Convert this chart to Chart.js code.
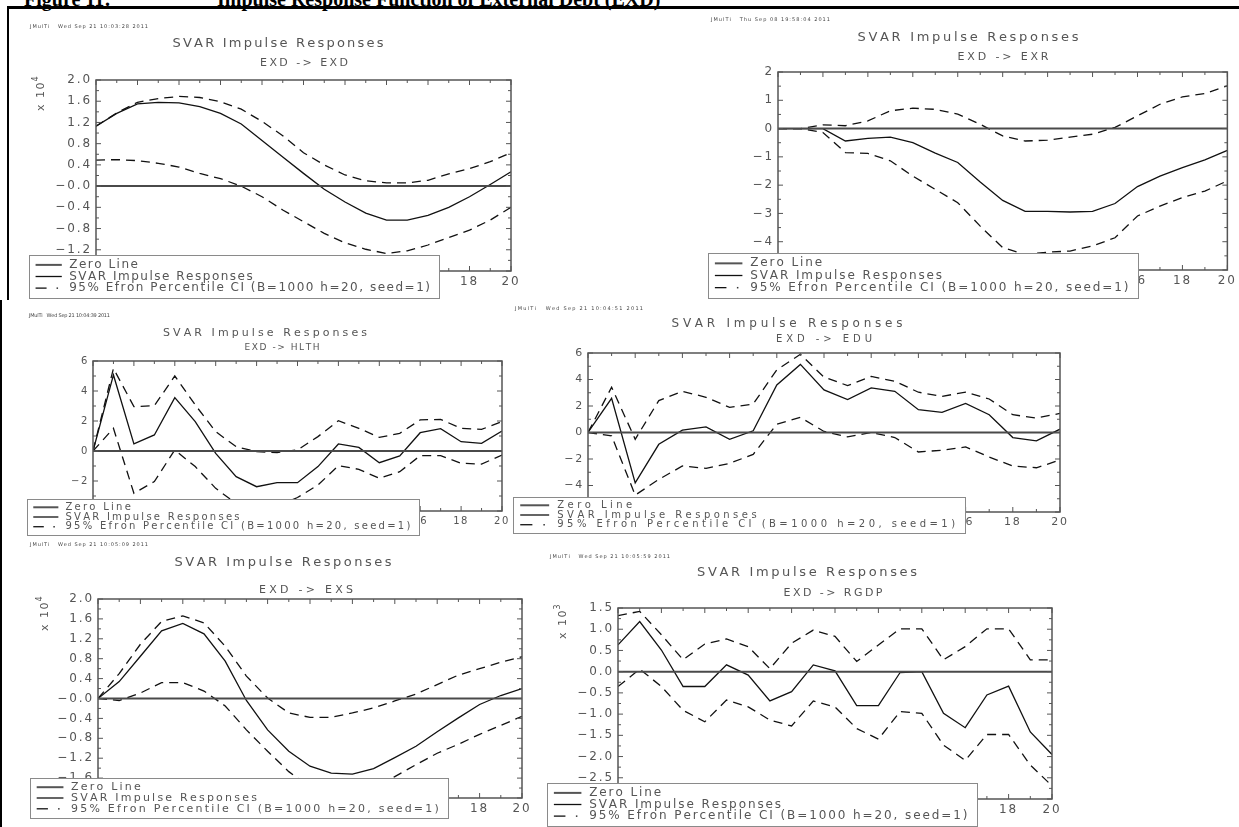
<!DOCTYPE html>
<html lang="en">
<head>
<meta charset="UTF-8">
<title>Impulse Response Function of External Debt (EXD)</title>
<script src="https://cdn.jsdelivr.net/npm/chart.js@4.4.1/dist/chart.umd.min.js"></script>
<style>
    body { margin: 0; background: #fff; }
    #page { position: relative; width: 1239px; height: 827px; overflow: hidden; background: #fff; }
    .head { position: absolute; top: -12px; font: bold 20px "Liberation Serif", "Times New Roman", serif; white-space: nowrap; color: #000; }
    .rule { position: absolute; background: #000; }
    canvas { position: absolute; left: 0; top: 0; }
</style>
</head>
<body>
<div id="page">
    <div class="head" style="left:24px">Figure 11:</div>
    <div class="head" style="left:217px">Impulse Response Function of External Debt (EXD)</div>
    <div class="rule" style="left:7px; right:0; top:6px; height:3px"></div>
    <div class="rule" style="left:7px; top:6px; width:2px; height:294px"></div>
    <div class="rule" style="left:0; top:300px; width:2px; height:527px"></div>
</div>

<script>
// horizons 0..20
const horizon = [0, 1, 2, 3, 4, 5, 6, 7, 8, 9, 10, 11, 12, 13, 14, 15, 16, 17, 18, 19, 20];

// EXD -> EXD (x 10^4)
const exdResp  = [1.13, 1.37, 1.55, 1.58, 1.57, 1.50, 1.37, 1.17, 0.86, 0.55, 0.24, -0.06, -0.30, -0.51, -0.64, -0.64, -0.55, -0.40, -0.20, 0.03, 0.27];
const exdUpper = [1.13, 1.38, 1.58, 1.65, 1.69, 1.67, 1.59, 1.45, 1.22, 0.95, 0.63, 0.40, 0.21, 0.10, 0.06, 0.06, 0.11, 0.23, 0.33, 0.46, 0.63];
const exdLower = [0.49, 0.50, 0.48, 0.43, 0.36, 0.24, 0.14, 0.00, -0.20, -0.45, -0.67, -0.89, -1.07, -1.19, -1.27, -1.22, -1.11, -0.97, -0.83, -0.64, -0.40];

// EXD -> EXR
const exrResp  = [0, 0, 0, -0.44, -0.35, -0.30, -0.50, -0.87, -1.20, -1.89, -2.54, -2.93, -2.93, -2.95, -2.93, -2.65, -2.05, -1.68, -1.38, -1.11, -0.77];
const exrUpper = [0, 0, 0.13, 0.10, 0.27, 0.63, 0.72, 0.68, 0.51, 0.15, -0.26, -0.44, -0.41, -0.30, -0.20, 0.04, 0.45, 0.86, 1.12, 1.24, 1.51];
const exrLower = [0, 0, -0.14, -0.85, -0.88, -1.14, -1.68, -2.15, -2.62, -3.45, -4.21, -4.45, -4.37, -4.33, -4.15, -3.86, -3.09, -2.74, -2.44, -2.21, -1.85];

// EXD -> HLTH
const hlthResp  = [0, 5.07, 0.47, 1.07, 3.56, 1.96, -0.16, -1.71, -2.38, -2.11, -2.11, -1.04, 0.47, 0.24, -0.78, -0.33, 1.22, 1.49, 0.62, 0.51, 1.33];
const hlthUpper = [0, 5.50, 2.96, 3.02, 5.00, 3.07, 1.29, 0.29, -0.04, -0.11, 0.07, 0.96, 2.02, 1.51, 0.91, 1.18, 2.07, 2.11, 1.51, 1.44, 1.96];
const hlthLower = [0, 1.51, -2.82, -2.04, 0.07, -1.04, -2.49, -3.50, -3.80, -3.70, -3.10, -2.27, -0.98, -1.22, -1.82, -1.38, -0.31, -0.31, -0.82, -0.87, -0.27];

// EXD -> EDU
const eduResp  = [0, 2.58, -3.80, -0.89, 0.18, 0.43, -0.51, 0.13, 3.59, 5.14, 3.22, 2.48, 3.37, 3.11, 1.72, 1.52, 2.20, 1.34, -0.38, -0.63, 0.25];
const eduUpper = [0, 3.42, -0.51, 2.41, 3.11, 2.66, 1.90, 2.15, 4.73, 5.90, 4.18, 3.54, 4.23, 3.87, 3.04, 2.73, 3.04, 2.53, 1.34, 1.09, 1.44];
const eduLower = [0, -0.25, -4.73, -3.54, -2.53, -2.71, -2.33, -1.65, 0.63, 1.14, 0.08, -0.33, 0.00, -0.38, -1.47, -1.34, -1.09, -1.85, -2.53, -2.66, -2.08];

// EXD -> EXS (x 10^4)
const exsResp  = [0, 0.34, 0.85, 1.36, 1.51, 1.30, 0.75, -0.04, -0.63, -1.06, -1.36, -1.50, -1.52, -1.41, -1.19, -0.96, -0.67, -0.39, -0.12, 0.06, 0.20];
const exsUpper = [0, 0.50, 1.09, 1.55, 1.66, 1.52, 1.05, 0.45, 0.01, -0.29, -0.38, -0.38, -0.29, -0.19, -0.05, 0.09, 0.28, 0.47, 0.60, 0.73, 0.84];
const exsLower = [0, -0.04, 0.11, 0.32, 0.32, 0.15, -0.15, -0.63, -1.06, -1.47, -1.78, -1.95, -1.98, -1.82, -1.57, -1.33, -1.10, -0.92, -0.72, -0.54, -0.36];

// EXD -> RGDP (x 10^3)
const rgdpResp  = [0.63, 1.18, 0.51, -0.35, -0.35, 0.16, -0.08, -0.69, -0.47, 0.16, 0.02, -0.80, -0.80, -0.02, 0.00, -0.98, -1.32, -0.55, -0.34, -1.42, -1.95];
const rgdpUpper = [1.32, 1.42, 0.87, 0.28, 0.65, 0.77, 0.59, 0.07, 0.67, 0.98, 0.83, 0.24, 0.63, 1.01, 1.01, 0.28, 0.59, 1.01, 1.01, 0.28, 0.28];
const rgdpLower = [-0.35, 0.06, -0.35, -0.91, -1.18, -0.67, -0.83, -1.14, -1.28, -0.69, -0.83, -1.34, -1.59, -0.94, -0.98, -1.73, -2.09, -1.48, -1.48, -2.20, -2.69];

const legendLabels = ['Zero Line', 'SVAR Impulse Responses', '95% Efron Percentile CI (B=1000 h=20, seed=1)'];

const panels = [
    { sub: 'EXD -> EXD', resp: exdResp, hi: exdUpper, lo: exdLower, min: -1.6, max: 2.0, step: 0.4, dec: 1, negZero: true, mult: '4',
      area: { l: 96, r: 511, t: 80, b: 271 }, title: [278, 44, 211], subt: [304, 63, 88], stamp: [30, 27, 118, 'JMulTi   Wed Sep 21 10:03:28 2011'],
      legend: [29, 255, 439, 298], fs: 12, multPos: [41, 97] },
    { sub: 'EXD -> EXR', resp: exrResp, hi: exrUpper, lo: exrLower, min: -5, max: 2, step: 1, dec: 0,
      area: { l: 778, r: 1228, t: 72, b: 270 }, title: [968, 38, 221], subt: [1003, 57, 91], stamp: [711, 20, 119, 'JMulTi   Thu Sep 08 19:58:04 2011'],
      legend: [708, 253, 1138, 298], fs: 12 },
    { sub: 'EXD -> HLTH', resp: hlthResp, hi: hlthUpper, lo: hlthLower, min: -4, max: 6, step: 2, dec: 0,
      area: { l: 93, r: 502, t: 361, b: 511 }, title: [265, 333, 204], subt: [282, 348, 75], stamp: [29, 316, 81, 'JMulTi   Wed Sep 21 10:04:39 2011'],
      legend: [27, 499, 419, 535], fs: 10 },
    { sub: 'EXD -> EDU', resp: eduResp, hi: eduUpper, lo: eduLower, min: -6, max: 6, step: 2, dec: 0,
      area: { l: 588, r: 1060, t: 353, b: 512 }, title: [787, 324, 231], subt: [824, 339, 96], stamp: [515, 309, 128, 'JMulTi   Wed Sep 21 10:04:51 2011'],
      legend: [513, 497, 965, 533], fs: 11 },
    { sub: 'EXD -> EXS', resp: exsResp, hi: exsUpper, lo: exsLower, min: -2.0, max: 2.0, step: 0.4, dec: 1, negZero: true, mult: '4',
      area: { l: 98, r: 522, t: 599, b: 798 }, title: [283, 563, 217], subt: [306, 590, 94], stamp: [30, 545, 118, 'JMulTi   Wed Sep 21 10:05:09 2011'],
      legend: [30, 778, 448, 818], fs: 12, multPos: [45, 617] },
    { sub: 'EXD -> RGDP', resp: rgdpResp, hi: rgdpUpper, lo: rgdpLower, min: -3.0, max: 1.5, step: 0.5, dec: 1, mult: '3',
      area: { l: 618, r: 1052, t: 608, b: 799 }, title: [807, 573, 220], subt: [833, 593, 99], stamp: [550, 557, 120, 'JMulTi   Wed Sep 21 10:05:59 2011'],
      legend: [547, 783, 977, 826], fs: 12, multPos: [563, 625] }
];

const W = 1239, H = 827;
const FONT = '"DejaVu Sans", sans-serif';
const TEXT = '#555';

function pts(vals) {
    return horizon.map((h, i) => ({ x: h, y: vals[i] }));
}

// gap between glyphs so that text spans the given width
function gapFor(ctx, text, width) {
    const total = [...text].reduce((s, c) => s + ctx.measureText(c).width, 0);
    return (width - total) / (text.length - 1);
}

function spaced(ctx, text, x, y, gap) {
    let cx = x;
    for (const c of text) {
        ctx.fillText(c, cx, y);
        cx += ctx.measureText(c).width + gap;
    }
    return cx - gap;
}

function centered(ctx, text, cx, cy, width, size) {
    ctx.font = size + 'px ' + FONT;
    ctx.fillStyle = TEXT;
    ctx.textBaseline = 'middle';
    ctx.textAlign = 'left';
    spaced(ctx, text, cx - width / 2, cy, gapFor(ctx, text, width));
}

function hline(ctx, x0, y0, x1, y1) {
    ctx.beginPath();
    ctx.moveTo(x0, y0);
    ctx.lineTo(x1, y1);
    ctx.stroke();
}

function decorFor(p) {
    return {
        id: 'decor',
        beforeDraw(chart) {
            chart.ctx.letterSpacing = (p.fs * 0.16).toFixed(1) + 'px';
        },
        afterDraw(chart) {
            const { ctx, chartArea: a, scales: { x, y } } = chart;
            ctx.save();
            ctx.letterSpacing = '0px';

            // frame and inward ticks
            ctx.strokeStyle = '#555';
            ctx.lineWidth = 1.5;
            ctx.strokeRect(a.left, a.top, a.right - a.left, a.bottom - a.top);
            ctx.lineWidth = 1;
            for (let v = 0; v <= 20; v++) {
                const px = x.getPixelForValue(v);
                const len = v % 2 ? 3 : 5;
                hline(ctx, px, a.top, px, a.top + len);
                hline(ctx, px, a.bottom, px, a.bottom - len);
            }
            const n = Math.round((p.max - p.min) / p.step * 2);
            for (let i = 0; i <= n; i++) {
                const py = y.getPixelForValue(p.min + i * p.step / 2);
                const len = i % 2 ? 3 : 5;
                hline(ctx, a.left, py, a.left + len, py);
                hline(ctx, a.right, py, a.right - len, py);
            }

            // titles, timestamp
            centered(ctx, 'SVAR Impulse Responses', p.title[0], p.title[1], p.title[2], p.fs + 1);
            centered(ctx, p.sub, p.subt[0], p.subt[1], p.subt[2], p.fs - 1);
            ctx.font = '5px ' + FONT;
            ctx.fillStyle = '#444';
            spaced(ctx, p.stamp[3], p.stamp[0], p.stamp[1], gapFor(ctx, p.stamp[3], p.stamp[2]));

            // x 10^n
            if (p.mult) {
                ctx.save();
                ctx.translate(p.multPos[0], p.multPos[1]);
                ctx.rotate(-Math.PI / 2);
                ctx.fillStyle = TEXT;
                ctx.font = '11px ' + FONT;
                ctx.textBaseline = 'middle';
                const end = spaced(ctx, 'x 10', -14, 0, 1.5);
                ctx.font = '8px ' + FONT;
                ctx.fillText(p.mult, end + 1, -5);
                ctx.restore();
            }

            // legend box
            const [x0, y0, x1, y1] = p.legend;
            const w = x1 - x0, h = y1 - y0;
            ctx.fillStyle = '#fff';
            ctx.fillRect(x0, y0, w, h);
            ctx.strokeStyle = '#8a8a8a';
            ctx.lineWidth = 1;
            ctx.strokeRect(x0 + 0.5, y0 + 0.5, w, h);
            const rows = [0.23, 0.5, 0.77].map(f => y0 + h * f);
            const sx0 = x0 + 0.016 * w, sx1 = x0 + 0.08 * w, tx = x0 + 0.098 * w;
            ctx.font = Math.round(h * 0.27) + 'px ' + FONT;
            ctx.textBaseline = 'middle';
            ctx.fillStyle = TEXT;
            const gap = gapFor(ctx, legendLabels[2], 0.88 * w);
            legendLabels.forEach((t, i) => spaced(ctx, t, tx, rows[i], gap));
            ctx.strokeStyle = '#555';
            ctx.lineWidth = 2;
            hline(ctx, sx0, rows[0], sx1, rows[0]);
            ctx.strokeStyle = '#111';
            ctx.lineWidth = 1.3;
            hline(ctx, sx0, rows[1], sx1, rows[1]);
            hline(ctx, sx0, rows[2], sx0 + 0.42 * (sx1 - sx0), rows[2]);
            ctx.fillStyle = '#333';
            ctx.fillRect(sx0 + 0.8 * (sx1 - sx0), rows[2] - 0.7, 1.5, 1.5);
            ctx.restore();
        }
    };
}

function makePanel(p) {
    const canvas = document.createElement('canvas');
    canvas.width = W;
    canvas.height = H;
    document.getElementById('page').appendChild(canvas);
    const yW = 50, xH = 22;
    const tickFont = { family: FONT, size: p.fs };
    const ci = { borderColor: '#111', borderWidth: 1.3, borderDash: [9, 6] };

    new Chart(canvas, {
        type: 'line',
        data: {
            datasets: [
                { label: legendLabels[0], data: [{ x: horizon[0], y: 0 }, { x: horizon[horizon.length - 1], y: 0 }], borderColor: '#4a4a4a', borderWidth: 2 },
                { label: legendLabels[1], data: pts(p.resp), borderColor: '#111', borderWidth: 1.3 },
                Object.assign({ label: 'CI upper', data: pts(p.hi) }, ci),
                Object.assign({ label: 'CI lower', data: pts(p.lo) }, ci)
            ]
        },
        options: {
            responsive: false,
            animation: false,
            devicePixelRatio: 1,
            layout: { padding: { left: p.area.l - yW, right: W - p.area.r, top: p.area.t, bottom: H - p.area.b - xH } },
            elements: { point: { radius: 0 }, line: { tension: 0 } },
            plugins: { legend: { display: false }, title: { display: false }, tooltip: { enabled: false } },
            scales: {
                x: {
                    type: 'linear', min: 0, max: 20,
                    afterFit: s => { s.height = xH; },
                    grid: { display: false, drawTicks: false },
                    border: { display: false },
                    ticks: { stepSize: 2, padding: 4, color: TEXT, font: tickFont, maxRotation: 0 }
                },
                y: {
                    min: p.min, max: p.max,
                    afterFit: s => { s.width = yW; },
                    grid: { display: false, drawTicks: false },
                    border: { display: false },
                    ticks: {
                        stepSize: p.step, padding: 4, color: TEXT, font: tickFont,
                        callback: v => {
                            const s = Math.abs(v).toFixed(p.dec);
                            const neg = v < -1e-9 || (p.negZero && Math.abs(v) < 1e-9);
                            return (neg ? '\u2212' : '') + s;
                        }
                    }
                }
            }
        },
        plugins: [decorFor(p)]
    });
}

panels.forEach(makePanel);
</script>
</body>
</html>
